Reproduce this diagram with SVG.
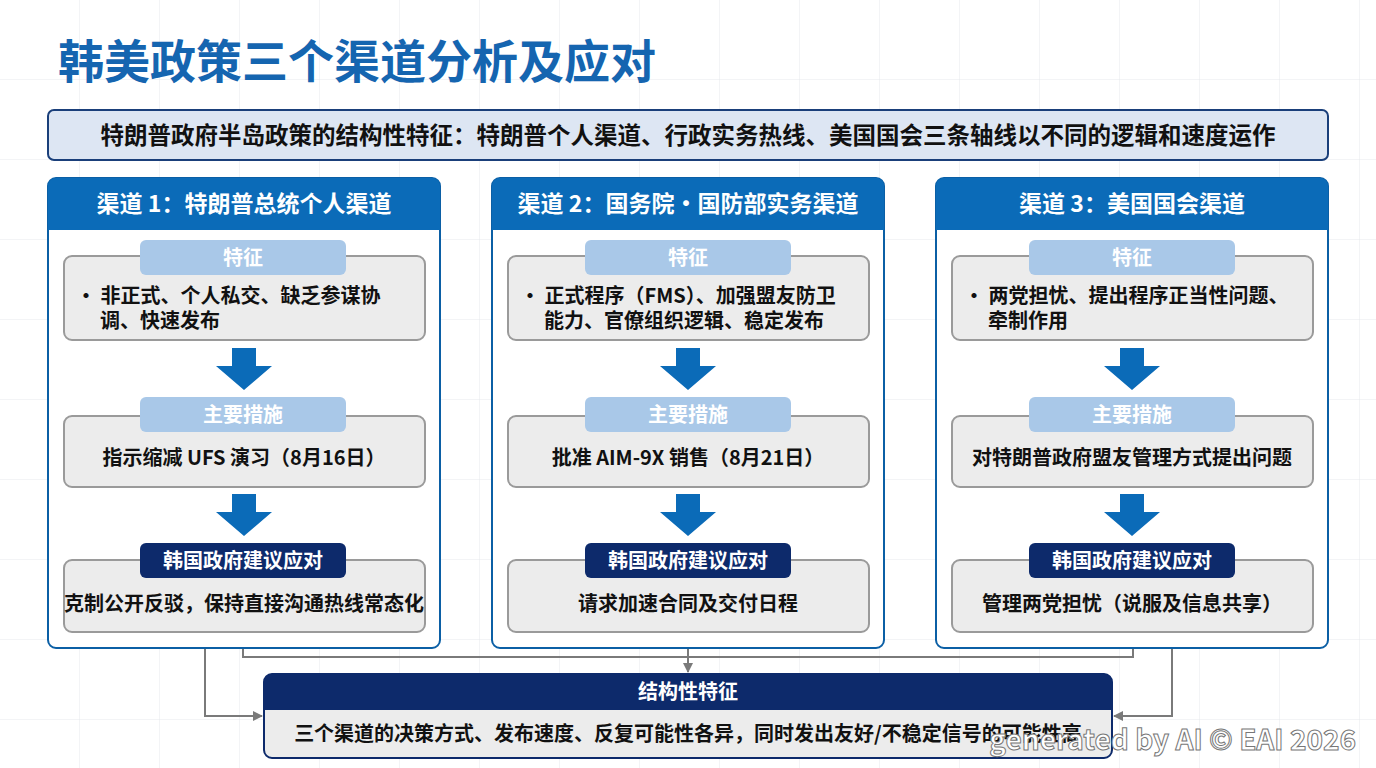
<svg xmlns="http://www.w3.org/2000/svg" width="1376" height="768" viewBox="0 0 1376 768">
<defs>
<pattern id="grid" width="80" height="80" patternUnits="userSpaceOnUse"><path d="M80 0V80H0" fill="none" stroke="#e6e8ec" stroke-width="1"/></pattern>
<marker id="ah" markerWidth="10" markerHeight="10" refX="9" refY="5" orient="auto" markerUnits="userSpaceOnUse"><path d="M0,0 L10,5 L0,10 Z" fill="#7a7a7a"/></marker>
<symbol id="darr" viewBox="0 0 60 42"><path d="M18 0H42V18H58L30 42L2 18H18Z" fill="#0b6bb8"/></symbol>
</defs>
<style>
text{font-family:"Noto Sans CJK SC","Noto Sans",sans-serif;font-weight:bold}
.col{fill:#fff;stroke:#0b5fa5;stroke-width:2}
.hd{fill:#0b6bb8}
.hdt{fill:#fff;font-size:23px;text-anchor:middle}
.box{fill:#ececec;stroke:#9a9a9a;stroke-width:2}
.pl{fill:#a9c8e8}
.pd{fill:#0d2a6b}
.plt{fill:#fff;font-size:20px;text-anchor:middle}
.bt{fill:#111;font-size:20px}
.btc{fill:#111;font-size:20px;text-anchor:middle}
.con{fill:none;stroke:#7a7a7a;stroke-width:2}
</style>
<rect width="1376" height="768" fill="#fff"/>
<rect width="1376" height="768" fill="url(#grid)"/>
<text x="58" y="78" font-size="46" fill="#1565b0">韩美政策三个渠道分析及应对</text>
<g id="banner"><rect x="48" y="110" width="1280" height="50" rx="6" fill="#dde6f3" stroke="#1a3f7a" stroke-width="2"/>
<text x="688" y="144" font-size="23.5" fill="#111" text-anchor="middle">特朗普政府半岛政策的结构性特征：特朗普个人渠道、行政实务热线、美国国会三条轴线以不同的逻辑和速度运作</text></g>
<g id="connectors">
<path class="con" d="M243 648V657H1133V648"/>
<path class="con" d="M688 648V672" marker-end="url(#ah)"/>
<path class="con" d="M205 648V716H262" marker-end="url(#ah)"/>
<path class="con" d="M1172 648V716H1114" marker-end="url(#ah)"/>
</g>
<g id="ch1">
<rect class="col" x="48" y="178" width="392" height="470" rx="8"/>
<path class="hd" d="M56 178H432A8 8 0 0 1 440 186V230H48V186A8 8 0 0 1 56 178Z"/>
<text class="hdt" x="244" y="212">渠道 1：特朗普总统个人渠道</text>
<rect class="box" x="64" y="256" width="361" height="84" rx="8"/>
<rect class="pl" x="140" y="240" width="206" height="35" rx="6"/><text class="plt" x="243" y="265">特征</text>
<text class="bt" x="76" y="303">•  非正式、个人私交、缺乏参谋协</text><text class="bt" x="100" y="328">调、快速发布</text>
<use href="#darr" x="214" y="348" width="60" height="42"/>
<rect class="box" x="64" y="416" width="361" height="71" rx="8"/>
<rect class="pl" x="140" y="397" width="206" height="35" rx="6"/><text class="plt" x="243" y="422">主要措施</text>
<text class="btc" x="244" y="465">指示缩减 UFS 演习（8月16日）</text>
<use href="#darr" x="214" y="494" width="60" height="42"/>
<rect class="box" x="64" y="560" width="361" height="72" rx="8"/>
<rect class="pd" x="140" y="543" width="206" height="35" rx="6"/><text class="plt" x="243" y="568">韩国政府建议应对</text>
<text class="btc" x="244" y="611">克制公开反驳，保持直接沟通热线常态化</text>
</g>
<g id="ch2">
<rect class="col" x="492" y="178" width="392" height="470" rx="8"/>
<path class="hd" d="M500 178H876A8 8 0 0 1 884 186V230H492V186A8 8 0 0 1 500 178Z"/>
<text class="hdt" x="688" y="212">渠道 2：国务院·国防部实务渠道</text>
<rect class="box" x="508" y="256" width="361" height="84" rx="8"/>
<rect class="pl" x="585" y="240" width="206" height="35" rx="6"/><text class="plt" x="688" y="265">特征</text>
<text class="bt" x="520" y="303">•  正式程序（FMS）、加强盟友防卫</text><text class="bt" x="544" y="328">能力、官僚组织逻辑、稳定发布</text>
<use href="#darr" x="658" y="348" width="60" height="42"/>
<rect class="box" x="508" y="416" width="361" height="71" rx="8"/>
<rect class="pl" x="585" y="397" width="206" height="35" rx="6"/><text class="plt" x="688" y="422">主要措施</text>
<text class="btc" x="688" y="465">批准 AIM-9X 销售（8月21日）</text>
<use href="#darr" x="658" y="494" width="60" height="42"/>
<rect class="box" x="508" y="560" width="361" height="72" rx="8"/>
<rect class="pd" x="585" y="543" width="206" height="35" rx="6"/><text class="plt" x="688" y="568">韩国政府建议应对</text>
<text class="btc" x="688" y="611">请求加速合同及交付日程</text>
</g>
<g id="ch3">
<rect class="col" x="936" y="178" width="392" height="470" rx="8"/>
<path class="hd" d="M944 178H1320A8 8 0 0 1 1328 186V230H936V186A8 8 0 0 1 944 178Z"/>
<text class="hdt" x="1132" y="212">渠道 3：美国国会渠道</text>
<rect class="box" x="952" y="256" width="361" height="84" rx="8"/>
<rect class="pl" x="1029" y="240" width="206" height="35" rx="6"/><text class="plt" x="1132" y="265">特征</text>
<text class="bt" x="964" y="303">•  两党担忧、提出程序正当性问题、</text><text class="bt" x="988" y="328">牵制作用</text>
<use href="#darr" x="1102" y="348" width="60" height="42"/>
<rect class="box" x="952" y="416" width="361" height="71" rx="8"/>
<rect class="pl" x="1029" y="397" width="206" height="35" rx="6"/><text class="plt" x="1132" y="422">主要措施</text>
<text class="btc" x="1132" y="465">对特朗普政府盟友管理方式提出问题</text>
<use href="#darr" x="1102" y="494" width="60" height="42"/>
<rect class="box" x="952" y="560" width="361" height="72" rx="8"/>
<rect class="pd" x="1029" y="543" width="206" height="35" rx="6"/><text class="plt" x="1132" y="568">韩国政府建议应对</text>
<text class="btc" x="1132" y="611">管理两党担忧（说服及信息共享）</text>
</g>
<g id="summary">
<rect x="264" y="674" width="848" height="84" rx="8" fill="#ececec" stroke="#0d2a6b" stroke-width="2"/>
<path d="M272 674H1104A8 8 0 0 1 1112 682V710H264V682A8 8 0 0 1 272 674Z" fill="#0d2a6b"/>
<text x="688" y="699" font-size="20" fill="#fff" text-anchor="middle">结构性特征</text>
<text x="688" y="741" font-size="20" fill="#111" text-anchor="middle">三个渠道的决策方式、发布速度、反复可能性各异，同时发出友好/不稳定信号的可能性高</text>
</g>
<text x="1356" y="750" font-size="28" fill="#fff" stroke="#777" stroke-width="1" text-anchor="end" font-family="DejaVu Sans">generated by AI © EAI 2026</text>
</svg>
